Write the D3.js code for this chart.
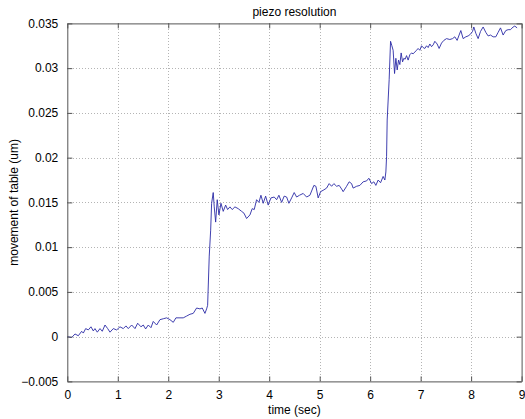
<!DOCTYPE html>
<html>
<head>
<meta charset="utf-8">
<script src="https://cdn.jsdelivr.net/npm/d3@7"></script>
<style>
  html, body { margin: 0; padding: 0; background: #fff; }
  svg { display: block; }
  text { font-family: "Liberation Sans", Arial, Helvetica, sans-serif; fill: #000; }
</style>
</head>
<body>
<svg id="chart" width="525" height="419"></svg>
<script>
// Measured piezo table displacement over time
const timeSec = [
  0.000, 0.087, 0.152, 0.218, 0.285, 0.317, 0.364, 0.416, 0.469, 0.515,
  0.548, 0.594, 0.648, 0.693, 0.747, 0.800, 0.846, 0.911, 0.978, 1.044,
  1.109, 1.162, 1.208, 1.275, 1.341, 1.394, 1.459, 1.505, 1.552, 1.604,
  1.657, 1.703, 1.770, 1.836, 1.901, 1.968, 2.034, 2.099, 2.152, 2.232,
  2.297, 2.364, 2.430, 2.495, 2.562, 2.628, 2.673, 2.727, 2.760, 2.780,
  2.812, 2.840, 2.859, 2.891, 2.911, 2.939, 2.970, 3.004, 3.044, 3.089,
  3.137, 3.176, 3.222, 3.267, 3.321, 3.386, 3.453, 3.499, 3.552, 3.618,
  3.663, 3.703, 3.750, 3.796, 3.836, 3.881, 3.929, 3.980, 4.034, 4.099,
  4.147, 4.192, 4.246, 4.297, 4.345, 4.390, 4.444, 4.495, 4.543, 4.600,
  4.673, 4.741, 4.806, 4.885, 4.925, 4.970, 5.018, 5.083, 5.137, 5.188,
  5.236, 5.281, 5.335, 5.386, 5.434, 5.465, 5.533, 5.584, 5.632, 5.663,
  5.731, 5.796, 5.861, 5.929, 5.974, 6.028, 6.073, 6.113, 6.158, 6.206,
  6.257, 6.291, 6.311, 6.325, 6.337, 6.376, 6.404, 6.430, 6.455, 6.483,
  6.509, 6.535, 6.562, 6.588, 6.614, 6.642, 6.667, 6.693, 6.721, 6.752,
  6.786, 6.820, 6.851, 6.885, 6.919, 6.950, 6.984, 7.018, 7.050, 7.083,
  7.117, 7.149, 7.182, 7.216, 7.248, 7.281, 7.327, 7.366, 7.414, 7.459,
  7.513, 7.578, 7.632, 7.677, 7.723, 7.762, 7.796, 7.842, 7.895, 7.941,
  7.988, 8.028, 8.053, 8.093, 8.139, 8.186, 8.238, 8.291, 8.337, 8.384,
  8.436, 8.489, 8.535, 8.582, 8.634, 8.687, 8.733, 8.780, 8.832, 8.865,
  8.911
];
const movementUm = [
  0.0000, -0.0001, 0.0003, 0.0001, 0.0006, 0.0004, 0.0009, 0.00075, 0.0011, 0.00064,
  0.0009, 0.0005, 0.0009, 0.0006, 0.0013, 0.0009, 0.0005, 0.0009, 0.00075, 0.0011,
  0.0009, 0.0012, 0.0009, 0.0013, 0.0009, 0.0015, 0.0011, 0.0013, 0.00086, 0.0013,
  0.0010, 0.0017, 0.0013, 0.0019, 0.0020, 0.0021, 0.0019, 0.0016, 0.0021, 0.0021,
  0.0021, 0.0023, 0.0025, 0.0026, 0.0032, 0.0031, 0.0032, 0.0026, 0.0031, 0.0035,
  0.0090, 0.0119, 0.0149, 0.0161, 0.0145, 0.0128, 0.0153, 0.0136, 0.0149, 0.0140,
  0.0147, 0.0142, 0.0145, 0.0142, 0.0145, 0.0143, 0.0140, 0.0138, 0.0132, 0.0136,
  0.0143, 0.0142, 0.0153, 0.0150, 0.0158, 0.0149, 0.0157, 0.0147, 0.0155, 0.0156,
  0.0153, 0.0158, 0.0150, 0.0157, 0.0156, 0.0149, 0.0155, 0.0161, 0.0156, 0.0158,
  0.0160, 0.0156, 0.0158, 0.0169, 0.0168, 0.0155, 0.0162, 0.0164, 0.0166, 0.0171,
  0.0168, 0.0171, 0.0168, 0.0169, 0.0165, 0.0162, 0.0168, 0.0173, 0.0171, 0.0166,
  0.0168, 0.0169, 0.0173, 0.0174, 0.0177, 0.0171, 0.0173, 0.0169, 0.0175, 0.0172,
  0.0179, 0.0175, 0.0184, 0.0201, 0.0242, 0.0287, 0.0330, 0.0325, 0.0320, 0.0294,
  0.0311, 0.0298, 0.0309, 0.0304, 0.0317, 0.0307, 0.0311, 0.0310, 0.0314, 0.0309,
  0.0315, 0.0317, 0.0316, 0.0318, 0.0320, 0.0322, 0.0320, 0.0325, 0.0323, 0.0322,
  0.0325, 0.0323, 0.0327, 0.0324, 0.0326, 0.0330, 0.0327, 0.0322, 0.0328, 0.0331,
  0.0333, 0.0332, 0.0333, 0.0335, 0.0331, 0.0337, 0.0342, 0.0333, 0.0335, 0.0336,
  0.0338, 0.0341, 0.0346, 0.0339, 0.0333, 0.0341, 0.0346, 0.0340, 0.0336, 0.0337,
  0.0335, 0.0335, 0.0340, 0.0345, 0.0337, 0.0342, 0.0343, 0.0343, 0.0346, 0.0347,
  0.0345
];
const xTicks = [0, 1, 2, 3, 4, 5, 6, 7, 8, 9];
const yTicks = [-0.005, 0, 0.005, 0.01, 0.015, 0.02, 0.025, 0.03, 0.035];
const yTickLabels = ["\u22120.005", "0", "0.005", "0.01", "0.015", "0.02", "0.025", "0.03", "0.035"];
const titleText = "piezo resolution";
const xLabelText = "time (sec)";
const yLabelText = "movement of table (um)";

const svg = d3.select("#chart");
const plot = { left: 67.3, right: 521.6, top: 23.4, bottom: 381.4 };
const axisColor = "#555";

const x = d3.scaleLinear().domain([0, 9]).range([plot.left, plot.right]);
const y = d3.scaleLinear().domain([-0.005, 0.035]).range([plot.bottom, plot.top]);

// Dotted grid
const grid = svg.append("g")
  .attr("stroke", "#b4b4b4").attr("stroke-width", 1).attr("stroke-dasharray", "1,2")
  .attr("shape-rendering", "crispEdges");
grid.selectAll("line.gx").data(xTicks.slice(1, -1)).join("line")
  .attr("x1", d => Math.round(x(d)) + 0.5).attr("x2", d => Math.round(x(d)) + 0.5)
  .attr("y1", plot.top).attr("y2", plot.bottom);
grid.selectAll("line.gy").data(yTicks.slice(1, -1)).join("line")
  .attr("x1", plot.left).attr("x2", plot.right)
  .attr("y1", d => Math.round(y(d)) + 0.5).attr("y2", d => Math.round(y(d)) + 0.5);

// Data trace
const line = d3.line().x((d, i) => x(timeSec[i])).y(d => y(d));
svg.append("path")
  .datum(movementUm)
  .attr("d", line)
  .attr("fill", "none")
  .attr("stroke", "#2a2aa6")
  .attr("stroke-width", 0.9)
  .attr("stroke-linejoin", "round");

// Axes with inward ticks on all four sides
const tickLen = 5;
const bottomAxis = d3.axisBottom(x).tickValues(xTicks).tickSize(-tickLen).tickSizeOuter(0).tickPadding(9)
  .tickFormat(d3.format("d"));
const topAxis = d3.axisTop(x).tickValues(xTicks).tickSize(-tickLen).tickSizeOuter(0).tickFormat("");
const leftAxis = d3.axisLeft(y).tickValues(yTicks).tickSize(-tickLen).tickSizeOuter(0).tickPadding(9)
  .tickFormat((d, i) => yTickLabels[i]);
const rightAxis = d3.axisRight(y).tickValues(yTicks).tickSize(-tickLen).tickSizeOuter(0).tickFormat("");

function styleAxis(g) {
  g.select(".domain").attr("stroke", axisColor).attr("stroke-width", 1);
  g.selectAll(".tick line").attr("stroke", axisColor);
  g.selectAll(".tick text").attr("font-size", 12).attr("fill", "#000")
    .attr("font-family", "'Liberation Sans', Arial, sans-serif");
}
svg.append("g").attr("transform", `translate(0,${plot.bottom})`).call(bottomAxis).call(styleAxis);
svg.append("g").attr("transform", `translate(0,${plot.top})`).call(topAxis).call(styleAxis);
svg.append("g").attr("transform", `translate(${plot.left},0)`).call(leftAxis).call(styleAxis);
svg.append("g").attr("transform", `translate(${plot.right},0)`).call(rightAxis).call(styleAxis);

// Titles
const cx = (plot.left + plot.right) / 2;
svg.append("text").attr("x", cx).attr("y", 16).attr("text-anchor", "middle")
  .attr("font-size", 12).text(titleText);
svg.append("text").attr("x", cx).attr("y", 414).attr("text-anchor", "middle")
  .attr("font-size", 12).text(xLabelText);
svg.append("text")
  .attr("transform", `translate(18,${(plot.top + plot.bottom) / 2}) rotate(-90)`)
  .attr("text-anchor", "middle").attr("font-size", 12).text(yLabelText);
</script>
</body>
</html>
